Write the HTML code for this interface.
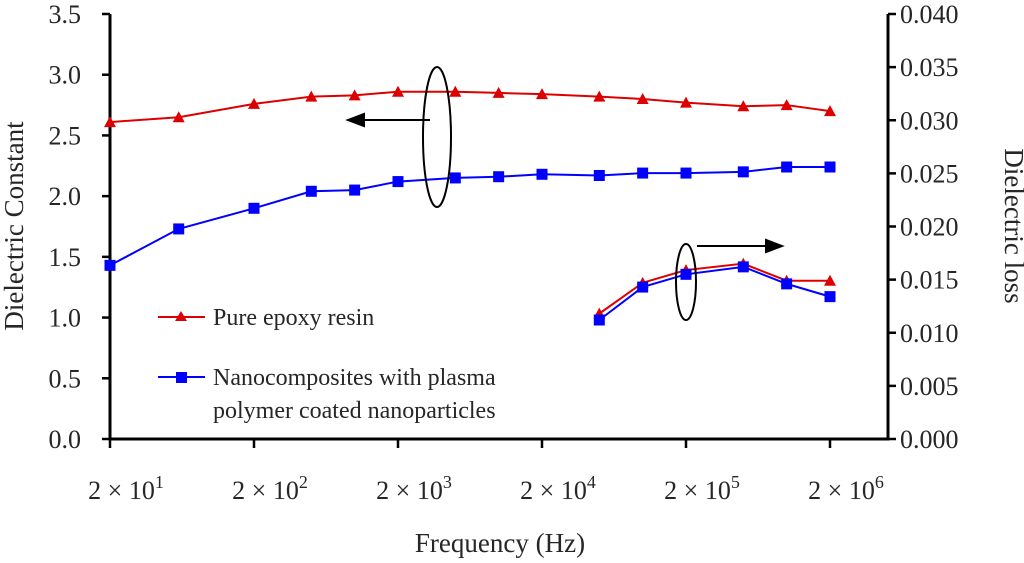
<!DOCTYPE html>
<html><head><meta charset="utf-8"><style>
body{margin:0;background:#fff}
svg text{font-family:"Liberation Serif",serif;fill:#262626}
</style></head><body>
<svg width="1024" height="558" viewBox="0 0 1024 558">
<g id="axes"></g><g id="marks"></g>
<g stroke="#000" stroke-width="2" fill="none">
<ellipse cx="437" cy="137" rx="14" ry="70"/>
<line x1="430" y1="120" x2="362" y2="120"/><polygon points="348,120 364,114 364,126" fill="#000"/>
<ellipse cx="686" cy="282" rx="10" ry="38"/>
<line x1="697" y1="246" x2="766" y2="246"/><polygon points="782,246 766,240 766,252" fill="#000"/>
</g>
<g>
<line x1="158" y1="317" x2="205" y2="317" stroke="#d00" stroke-width="2"/>
<polygon points="181,311 187,321 175,321" fill="#d00"/>
<text x="213" y="325" font-size="24">Pure epoxy resin</text>
<line x1="158" y1="377" x2="205" y2="377" stroke="#00f" stroke-width="2"/>
<rect x="176" y="372" width="11" height="11" fill="#00f"/>
<text x="213" y="385" font-size="24">Nanocomposites with plasma</text>
<text x="213" y="418" font-size="24">polymer coated nanoparticles</text>
</g>
<text font-size="27" transform="translate(23,226) rotate(-90)" text-anchor="middle">Dielectric Constant</text>
<text font-size="27" transform="translate(1005,226) rotate(90)" text-anchor="middle">Dielectric loss</text>
<text font-size="27" x="500" y="552" text-anchor="middle">Frequency (Hz)</text>
</svg>
<script>
const freqs=[20,60,200,500,1000,2000,5000,10000,20000,50000,100000,200000,500000,1000000,2000000];
const epoxyK=[2.61,2.65,2.76,2.82,2.83,2.86,2.86,2.85,2.84,2.82,2.80,2.77,2.74,2.75,2.70];
const nanoK=[1.43,1.73,1.90,2.04,2.05,2.12,2.15,2.16,2.18,2.17,2.19,2.19,2.20,2.24,2.24];
const lossFreqs=[50000,100000,200000,500000,1000000,2000000];
const epoxyLoss=[0.0118,0.0147,0.0159,0.0165,0.0149,0.0149];
const nanoLoss=[0.0112,0.0143,0.0155,0.0162,0.0146,0.0134];
const yTicks=["0.0","0.5","1.0","1.5","2.0","2.5","3.0","3.5"];
const y2Ticks=["0.000","0.005","0.010","0.015","0.020","0.025","0.030","0.035","0.040"];
const xTickExp=[1,2,3,4,5,6];
const NS="http://www.w3.org/2000/svg";
const L=110,R=888,T=14,B=439;
const xs=f=>L+(Math.log10(f)-Math.log10(20))*144;
const ys=v=>B-v/3.5*(B-T);
const y2=v=>B-v/0.04*(B-T);
function mk(tag,at,parent){const e=document.createElementNS(NS,tag);for(const k in at)e.setAttribute(k,at[k]);parent.appendChild(e);return e;}
const ax=document.getElementById('axes'),mg=document.getElementById('marks');
let a=mk('polyline',{points:`${L},${T} ${L},${B} ${R},${B} ${R},${T}`,fill:'none',stroke:'#000','stroke-width':3},ax);


yTicks.forEach((t,i)=>{const v=parseFloat(t);
 let l=mk('line',{x1:L-8,x2:L,y1:ys(v),y2:ys(v),stroke:'#000','stroke-width':2.5},ax);
 
 
 let tx=mk('text',{x:81,y:ys(v)+9,'text-anchor':'end','font-size':26},ax);tx.textContent=t;
 
 });
y2Ticks.forEach(t=>{const v=parseFloat(t);
 let l=mk('line',{x1:R,x2:R+8,y1:y2(v),y2:y2(v),stroke:'#000','stroke-width':2.5},ax);
 
 
 let tx=mk('text',{x:R+12,y:y2(v)+9,'font-size':26},ax);tx.textContent=t;
 
 });
xTickExp.forEach(e=>{const x=xs(2*Math.pow(10,e));
 let l=mk('line',{x1:x,x2:x,y1:B,y2:B+9,stroke:'#000','stroke-width':2.5},ax);
 
 
 let tx=mk('text',{x:x+16,y:499,'text-anchor':'middle','font-size':26},ax);
 tx.innerHTML=`2 × 10<tspan dy="-11" font-size="18">${e}</tspan>`;
 
 });
function series(fx,vals,sc,color,shape,name){
 const pts=fx.map((f,i)=>[xs(f),sc(vals[i])]);
 let p=mk('polyline',{points:pts.map(q=>q.join(',')).join(' '),fill:'none',stroke:color,'stroke-width':2},mg);
 
 
 pts.forEach(([x,y])=>{let m;
  if(shape==='tri')m=mk('polygon',{points:`${x},${y-6} ${x+6},${y+5} ${x-6},${y+5}`,fill:color},mg);
  else m=mk('rect',{x:x-5.5,y:y-5.5,width:11,height:11,fill:color},mg);
  
  });
}
series(freqs,epoxyK,ys,'#d00','tri','epoxy-constant');
series(freqs,nanoK,ys,'#00f','sq','nano-constant');
series(lossFreqs,epoxyLoss,y2,'#d00','tri','epoxy-loss');
series(lossFreqs,nanoLoss,y2,'#00f','sq','nano-loss');
</script>
</body></html>
